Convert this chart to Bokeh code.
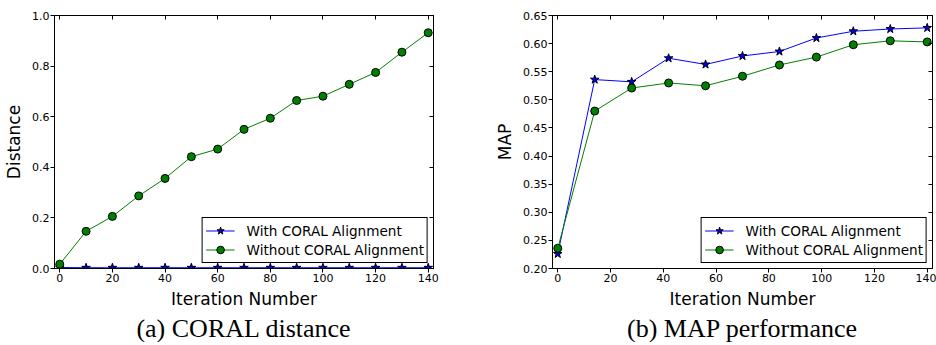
from bokeh.plotting import figure
from bokeh.models import LinearAxis, FixedTicker, Title, Legend, CustomJSTickFormatter
from bokeh.layouts import row
from bokeh.embed import file_html
from bokeh.resources import INLINE

# ---- data ----
iter_a = [0, 10, 20, 30, 40, 50, 60, 70, 80, 90, 100, 110, 120, 130, 140]
dist_with = [0.004, 0.003, 0.003, 0.003, 0.003, 0.003, 0.003, 0.003, 0.003, 0.003, 0.003, 0.003, 0.003, 0.003, 0.003]
dist_without = [0.017, 0.147, 0.206, 0.287, 0.356, 0.442, 0.472, 0.550, 0.594, 0.664, 0.681, 0.728, 0.775, 0.855, 0.932]

iter_b = [0, 14, 28, 42, 56, 70, 84, 98, 112, 126, 140]
map_with = [0.226, 0.536, 0.532, 0.574, 0.563, 0.578, 0.586, 0.610, 0.622, 0.626, 0.628]
map_without = [0.236, 0.480, 0.521, 0.530, 0.525, 0.542, 0.562, 0.576, 0.598, 0.605, 0.603]

x_ticks = [0, 20, 40, 60, 80, 100, 120, 140]
ya_ticks = [0.0, 0.2, 0.4, 0.6, 0.8, 1.0]
yb_ticks = [0.20, 0.25, 0.30, 0.35, 0.40, 0.45, 0.50, 0.55, 0.60, 0.65]
ya_labels = {t: "%.1f" % t for t in ya_ticks}
yb_labels = {t: "%.2f" % t for t in yb_ticks}

label_with = "With CORAL Alignment"
label_without = "Without CORAL Alignment"
captions = ["(a) CORAL distance", "(b) MAP performance"]

FONT = "DejaVu Sans"
BLUE = "#0000ff"
GREEN = "#008000"


def style(p, yticks, ylabels, ylabel, xlabel, caption):
    p.outline_line_color = "black"
    p.xgrid.visible = False
    p.ygrid.visible = False
    p.xaxis.ticker = FixedTicker(ticks=x_ticks)
    p.yaxis.ticker = FixedTicker(ticks=yticks)
    p.yaxis.major_label_overrides = ylabels
    for ax in (p.xaxis[0], p.yaxis[0]):
        ax.major_tick_in = 0
        ax.major_tick_out = 4
        ax.minor_tick_line_color = None
        ax.axis_line_color = "black"
        ax.major_tick_line_color = "black"
        ax.major_label_text_font = FONT
        ax.major_label_text_font_size = "11px"
        ax.major_label_text_color = "black"
        ax.axis_label_text_font = FONT
        ax.axis_label_text_font_size = "17px"
        ax.axis_label_text_font_style = "normal"
        ax.axis_label_text_color = "black"
    p.yaxis.major_label_standoff = 1
    p.xaxis.major_label_standoff = 1
    p.yaxis.axis_label = ylabel
    p.xaxis.axis_label = xlabel
    p.yaxis.axis_label_standoff = 5
    p.xaxis.axis_label_standoff = 4
    blank = CustomJSTickFormatter(code="return '';")
    # inward ticks on top and right
    top = LinearAxis(ticker=FixedTicker(ticks=x_ticks), formatter=blank,
                     major_tick_in=4, major_tick_out=0, minor_tick_line_color=None,
                     major_label_standoff=0, axis_line_color="black")
    right = LinearAxis(ticker=FixedTicker(ticks=yticks), formatter=blank,
                       major_tick_in=4, major_tick_out=0, minor_tick_line_color=None,
                       major_label_standoff=0, axis_line_color="black")
    p.add_layout(top, "above")
    p.add_layout(right, "right")
    p.add_layout(Title(text=caption, align="center", text_font="Liberation Serif",
                       text_font_size="26px", text_font_style="normal",
                       text_color="black", standoff=0), "below")


def legend(p, items):
    lg = Legend(items=items, location="bottom_right", border_line_color="black",
                border_line_width=1, border_line_alpha=1, label_text_font=FONT,
                label_text_font_size="13.6px", label_text_color="black",
                glyph_width=29, glyph_height=19, label_height=19, label_standoff=12,
                padding=3, spacing=0, margin=5, background_fill_alpha=1)
    p.add_layout(lg, "center")


# ---- figure (a) ----
p1 = figure(frame_width=379, frame_height=253, x_range=(-2, 142), y_range=(0, 1.0),
            output_backend="svg", toolbar_location=None,
            min_border_left=54, min_border_right=20, min_border_top=15, min_border_bottom=72)
l1a = p1.line(iter_a, dist_with, color=BLUE, line_width=1)
s1a = p1.scatter(iter_a, dist_with, marker="star", size=9, fill_color=BLUE, line_color="black", line_width=1)
l1b = p1.line(iter_a, dist_without, color=GREEN, line_width=1)
s1b = p1.scatter(iter_a, dist_without, marker="circle", size=8, fill_color=GREEN, line_color="black", line_width=1)
style(p1, ya_ticks, ya_labels, "Distance", "Iteration Number", captions[0])
legend(p1, [(label_with, [l1a, s1a]), (label_without, [l1b, s1b])])

# ---- figure (b) ----
p2 = figure(frame_width=380, frame_height=253, x_range=(-2, 142), y_range=(0.20, 0.65),
            output_backend="svg", toolbar_location=None,
            min_border_left=99, min_border_right=4, min_border_top=15, min_border_bottom=72)
l2a = p2.line(iter_b, map_with, color=BLUE, line_width=1)
s2a = p2.scatter(iter_b, map_with, marker="star", size=9, fill_color=BLUE, line_color="black", line_width=1)
l2b = p2.line(iter_b, map_without, color=GREEN, line_width=1)
s2b = p2.scatter(iter_b, map_without, marker="circle", size=8, fill_color=GREEN, line_color="black", line_width=1)
style(p2, yb_ticks, yb_labels, "MAP", "Iteration Number", captions[1])
legend(p2, [(label_with, [l2a, s2a]), (label_without, [l2b, s2b])])

layout = row(p1, p2, spacing=0)
open("out.html", "w").write(file_html(layout, INLINE))
